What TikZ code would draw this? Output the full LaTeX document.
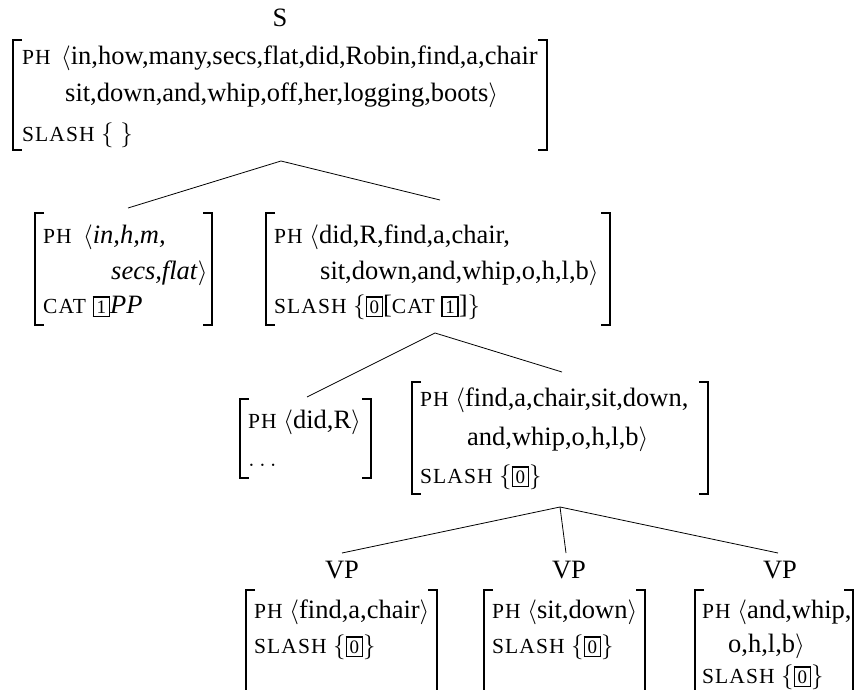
\documentclass[tikz,border=0pt]{standalone}
\usepackage{fontspec}
\setmainfont{Liberation Serif}
\newcommand{\fsc}[1]{{\fontsize{21.5}{24}\selectfont\addfontfeature{LetterSpace=5}#1}}
\newcommand{\tagbox}[1]{{\setlength{\fboxsep}{2.6pt}\setlength{\fboxrule}{1.4pt}\fbox{\fontsize{19}{19}\selectfont #1}}}
\tikzset{
  txt/.style={anchor=base west, inner sep=0pt, font=\fontsize{26.5}{30}\selectfont},
  lbl/.style={anchor=base, inner sep=0pt, font=\fontsize{26.5}{30}\selectfont},
  brk/.style={line width=1.5pt},
  edge/.style={line width=0.8pt}
}
\newcommand{\avmbox}[4]{%
  \draw[brk] (#1+9,#2) -- (#1,#2) -- (#1,#4) -- (#1+9,#4);
  \draw[brk] (#3-9,#2) -- (#3,#2) -- (#3,#4) -- (#3-9,#4);}
\begin{document}
\begin{tikzpicture}[x=1pt,y=-1pt]
\useasboundingbox (0,0) rectangle (856,690);
\begin{scope}
\clip (0,0) rectangle (856,690);
% top
\node[lbl] (s) at (280,27) {S};
\avmbox{13}{40}{547}{150}
\node[txt] (t1) at (22,65) {\fsc{PH}};
\node[txt] (t2) at (61,65) {$\langle$in,how,many,secs,flat,did,Robin,find,a,chair};
\node[txt] (t3) at (65,102) {sit,down,and,whip,off,her,logging,boots$\rangle$};
\node[txt] (t4) at (22,141) {\fsc{SLASH} $\{\ \}$};
% level 2
\coordinate (a0) at (281,161);
\coordinate (a0l) at (128,208);
\coordinate (a0r) at (440,200);
\draw[edge] (a0l) -- (a0) -- (a0r);
\avmbox{35}{213}{212}{325}
\node[txt] (l1) at (43,243) {\fsc{PH}};
\node[txt] (l2) at (83,243) {$\langle$\textit{in,h,m,}};
\node[txt] (l3) at (111,279) {\textit{secs,flat}$\rangle$};
\node[txt] (l4) at (43,313) {\fsc{CAT} \tagbox{1}\textit{PP}};
\avmbox{266}{213}{610}{325}
\node[txt] (r1) at (274,243) {\fsc{PH} $\langle$did,R,find,a,chair,};
\node[txt] (r2) at (320,279) {sit,down,and,whip,o,h,l,b$\rangle$};
\node[txt] (r3) at (274,313) {\fsc{SLASH} $\{$\tagbox{0}[\fsc{CAT} \tagbox{1}]$\}$};
% level 3
\coordinate (b0) at (435,333);
\coordinate (b0l) at (307,397);
\coordinate (b0r) at (562,372);
\draw[edge] (b0l) -- (b0) -- (b0r);
\avmbox{240}{399}{371}{478}
\node[txt] (m1) at (248,428) {\fsc{PH} $\langle$did,R$\rangle$};
\node[txt] (m2) at (248,466) {$\ldots$};
\avmbox{412}{382}{708}{494}
\node[txt] (n1) at (420,406) {\fsc{PH} $\langle$find,a,chair,sit,down,};
\node[txt] (n2) at (467,445) {and,whip,o,h,l,b$\rangle$};
\node[txt] (n3) at (420,483) {\fsc{SLASH} $\{$\tagbox{0}$\}$};
% level 4
\coordinate (c0) at (560,507);
\coordinate (c0l) at (342,553);
\coordinate (c0m) at (566,553);
\coordinate (c0r) at (778,553);
\draw[edge] (c0l) -- (c0) -- (c0r);
\draw[edge] (c0) -- (c0m);
\node[lbl] (vp1) at (342,578) {VP};
\node[lbl] (vp2) at (569,578) {VP};
\node[lbl] (vp3) at (780,578) {VP};
\avmbox{246}{590}{437}{710}
\node[txt] (p1) at (254,618) {\fsc{PH} $\langle$find,a,chair$\rangle$};
\node[txt] (p2) at (254,653) {\fsc{SLASH} $\{$\tagbox{0}$\}$};
\avmbox{484}{590}{645}{710}
\node[txt] (q1) at (492,618) {\fsc{PH} $\langle$sit,down$\rangle$};
\node[txt] (q2) at (492,653) {\fsc{SLASH} $\{$\tagbox{0}$\}$};
\avmbox{695}{590}{853}{710}
\node[txt] (u1) at (702,618) {\fsc{PH} $\langle$and,whip,};
\node[txt] (u2) at (728,652) {o,h,l,b$\rangle$};
\node[txt] (u3) at (702,683) {\fsc{SLASH} $\{$\tagbox{0}$\}$};
\end{scope}
\end{tikzpicture}
\end{document}
